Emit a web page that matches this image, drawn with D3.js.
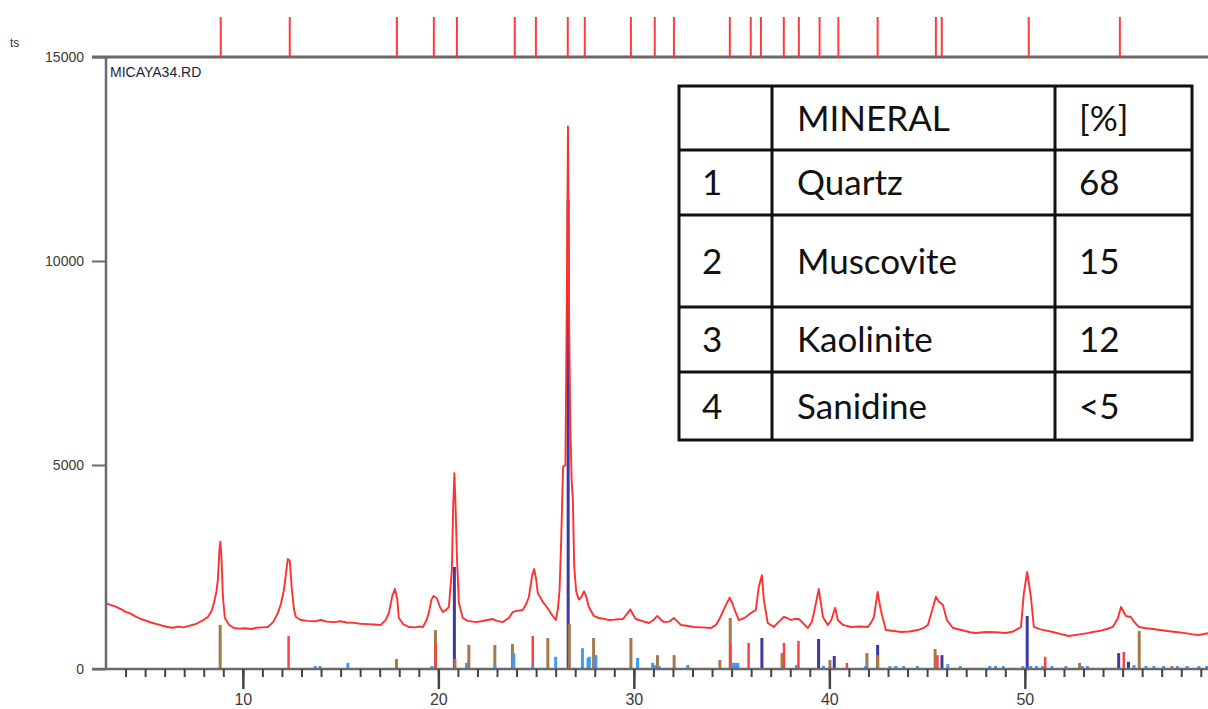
<!DOCTYPE html>
<html>
<head>
<meta charset="utf-8">
<script src="https://cdn.jsdelivr.net/npm/d3@7"></script>
<style>
  body { margin: 0; background: #fff; }
</style>
</head>
<body>
<div id="chart"></div>
<script>
// measured pattern (2theta, counts)
var profile = [
  [3.04,1600],[3.3,1560],[3.5,1530],[3.76,1470],[4.0,1400],[4.2,1370],[4.5,1290],[4.78,1225],[5.0,1190],[5.3,1140],
  [5.6,1100],[5.9,1060],[6.16,1030],[6.4,1010],[6.7,1040],[6.98,1020],[7.2,1050],[7.5,1090],[7.7,1127],[7.95,1190],
  [8.21,1275],[8.4,1420],[8.52,1617],[8.65,1900],[8.72,2180],[8.8,2900],[8.85,3120],[8.9,2800],[8.98,1765],[9.08,1250],
  [9.3,1080],[9.54,1005],[9.8,990],[10.1,1000],[10.41,980],[10.7,1010],[11.0,1020],[11.28,1030],[11.55,1150],[11.79,1370],
  [11.95,1600],[12.1,1936],[12.22,2400],[12.3,2700],[12.4,2650],[12.51,1936],[12.62,1450],[12.71,1275],[12.97,1200],[13.3,1180],
  [13.7,1170],[14.0,1200],[14.3,1160],[14.65,1150],[15.0,1170],[15.3,1140],[15.7,1130],[16.0,1110],[16.39,1100],[16.7,1090],
  [17.06,1080],[17.3,1200],[17.47,1370],[17.65,1800],[17.78,1960],[17.9,1700],[17.98,1250],[18.2,1100],[18.49,1030],[18.8,1020],
  [19.0,1040],[19.21,1030],[19.4,1200],[19.51,1370],[19.65,1700],[19.75,1790],[19.92,1740],[20.1,1500],[20.23,1400],[20.4,1450],
  [20.54,1520],[20.69,2430],[20.76,4000],[20.82,4800],[20.88,4000],[20.95,2745],[21.05,1617],[21.25,1250],[21.5,1180],[21.92,1150],
  [22.2,1170],[22.5,1200],[22.79,1225],[23.0,1180],[23.3,1150],[23.6,1250],[23.81,1400],[24.1,1430],[24.32,1446],[24.5,1600],
  [24.63,1765],[24.8,2300],[24.9,2450],[25.0,2200],[25.09,1860],[25.35,1640],[25.5,1550],[25.65,1446],[25.85,1300],[26.01,1200],
  [26.12,1500],[26.2,1936],[26.28,3100],[26.38,4950],[26.5,5000],[26.57,9000],[26.63,13300],[26.68,9000],[26.75,6000],[26.82,4600],
  [26.88,4140],[26.95,2500],[27.05,1900],[27.19,1700],[27.3,1750],[27.45,1900],[27.55,1800],[27.7,1520],[27.95,1300],[28.21,1250],
  [28.5,1230],[28.72,1200],[29.0,1210],[29.2,1220],[29.44,1225],[29.65,1350],[29.82,1460],[30.0,1300],[30.1,1225],[30.4,1180],
  [30.77,1127],[31.0,1200],[31.2,1300],[31.4,1200],[31.53,1150],[31.8,1160],[32.05,1250],[32.2,1180],[32.4,1080],[32.7,1060],
  [33.07,1030],[33.5,1020],[33.94,1005],[34.2,1080],[34.35,1200],[34.55,1400],[34.71,1570],[34.9,1750],[35.05,1600],[35.12,1495],
  [35.37,1200],[35.55,1230],[35.73,1275],[35.98,1370],[36.24,1446],[36.39,2010],[36.55,2300],[36.65,1690],[36.85,1127],[37.16,1030],
  [37.4,1150],[37.67,1275],[37.85,1250],[38.03,1200],[38.25,1230],[38.44,1225],[38.7,1100],[38.9,1005],[39.1,1150],[39.21,1370],
  [39.46,1960],[39.67,1275],[39.92,1080],[40.1,1200],[40.18,1323],[40.3,1500],[40.43,1200],[40.7,1080],[41.1,1030],[41.5,1040],
  [41.97,1030],[42.15,1150],[42.28,1275],[42.47,1890],[42.63,1446],[42.89,955],[43.3,930],[43.66,907],[44.1,920],[44.53,955],
  [44.8,1000],[45.04,1080],[45.19,1323],[45.45,1770],[45.6,1650],[45.81,1570],[46.01,1200],[46.32,1005],[46.8,950],[47.2,900],
  [47.49,882],[48.01,907],[48.5,900],[49.03,882],[49.4,920],[49.8,1030],[49.95,1860],[50.12,2380],[50.31,1765],[50.46,1030],
  [50.8,970],[51.1,940],[51.43,907],[51.8,860],[52.25,809],[52.8,850],[53.2,880],[53.48,907],[53.9,940],[54.2,980],
  [54.5,1030],[54.76,1250],[54.92,1520],[55.17,1300],[55.42,1275],[55.6,1150],[55.83,1030],[56.2,1000],[56.55,980],[57.0,950],
  [57.3,930],[57.72,907],[58.2,880],[58.6,850],[58.9,833],[59.41,880]
];

// reference sticks per phase (2theta, height)
var quartz = [[20.82,2500],[26.64,11500],[36.55,760],[39.45,735],[40.25,320],[42.47,590],[45.76,340],[50.12,1300],[54.8,390],[55.3,175]];
var muscovite = [[8.84,1080],[17.86,245],[19.85,955],[20.85,250],[21.56,590],[22.89,590],[23.79,610],[25.6,760],[26.7,1100],
  [27.94,760],[29.85,760],[31.21,340],[32.06,340],[34.4,220],[34.93,1250],[37.58,390],[40.03,220],[41.92,390],[42.47,340],
  [45.41,490],[52.8,150],[55.85,930],[57.52,60]];
var kaolinite = [[12.34,810],[19.87,640],[24.83,810],[34.93,640],[35.87,640],[37.68,640],[38.42,690],[40.9,150],[45.53,340],
  [51.04,300],[55.06,420]];
var sanidine = [[13.7,60],[13.95,60],[15.37,150],[19.67,50],[21.44,150],[22.89,100],[23.86,390],[24.83,60],[26.0,300],
  [27.37,510],[27.66,270],[27.72,300],[28.06,340],[30.19,270],[30.96,150],[31.05,100],[31.3,60],[32.76,100],[35.07,150],
  [35.2,150],[35.32,150],[38.32,100],[39.7,80],[41.85,60],[43.1,40],[43.4,40],[43.8,40],[44.5,40],[46.06,120],[46.7,40],
  [48.2,40],[48.5,40],[48.9,40],[49.9,50],[50.3,50],[50.6,50],[50.9,50],[51.38,60],[52.1,40],[52.95,60],[53.2,40],
  [55.58,100],[56.2,40],[56.6,40],[57.1,40],[57.8,40],[58.3,40],[58.9,40],[59.3,40]];

// peak search marks on top
var peakMarks = [8.87,12.4,17.88,19.77,20.95,23.91,24.99,26.62,27.49,29.85,31.07,32.05,34.91,35.98,36.5,37.67,38.44,
  39.5,40.46,42.47,45.45,45.75,50.2,54.86];

// mineral table
var tableHeader = ["", "MINERAL", "[%]"];
var tableNums = ["1", "2", "3", "4"];
var tableMinerals = ["Quartz", "Muscovite", "Kaolinite", "Sanidine"];
var tablePct = ["68", "15", "12", "<5"];

var yTicks = [0, 5000, 10000, 15000];
var xTicks = [10, 20, 30, 40, 50];

var W = 1208, H = 709;
var svg = d3.select('#chart').append('svg')
    .attr('width', W)
    .attr('height', H)
    .style('display', 'block');

var x = d3.scaleLinear().domain([3, 59.4]).range([106, 106 + 56.4 * 19.55]);
var y = d3.scaleLinear().domain([0, 15000]).range([669, 57]);

svg.append('clipPath').attr('id', 'plotclip')
  .append('rect').attr('x', 106).attr('y', 57).attr('width', W - 106).attr('height', 669 - 57);

// sticks
function drawSticks(data, color, w) {
  svg.append('g').selectAll('line')
    .data(data)
    .enter().append('line')
    .attr('x1', function (d) { return x(d[0]); })
    .attr('x2', function (d) { return x(d[0]); })
    .attr('y1', y(0))
    .attr('y2', function (d) { return Math.min(y(d[1]), y(0) - 3); })
    .attr('stroke', color)
    .attr('stroke-width', w);
}
drawSticks(quartz, '#3a3aa6', 3);
drawSticks(muscovite, '#a57a48', 3);
drawSticks(kaolinite, '#ff4040', 2.5);
drawSticks(sanidine, '#3d9bff', 3);

// pattern
var line = d3.line()
  .x(function (d) { return x(d[0]); })
  .y(function (d) { return y(d[1]); });

svg.append('path')
  .datum(profile)
  .attr('clip-path', 'url(#plotclip)')
  .attr('fill', 'none')
  .attr('stroke', '#ff3030')
  .attr('stroke-width', 1.9)
  .attr('stroke-linejoin', 'round')
  .attr('d', line);

// axes
var axisColor = '#6a6a6a';
var yAxis = svg.append('g')
  .attr('transform', 'translate(106,0)')
  .call(d3.axisLeft(y).tickValues(yTicks).tickSize(14).tickPadding(8).tickFormat(d3.format('d')));
yAxis.select('.domain').remove();
yAxis.selectAll('line').attr('stroke', axisColor).attr('stroke-width', 2);
yAxis.selectAll('text').style('font', '14px "Liberation Sans", Arial, sans-serif').attr('fill', '#3a3a3a');

svg.append('line').attr('x1', 106).attr('x2', 106).attr('y1', 56).attr('y2', 670)
  .attr('stroke', axisColor).attr('stroke-width', 2.5);
svg.append('line').attr('x1', 92).attr('x2', W).attr('y1', 57).attr('y2', 57)
  .attr('stroke', axisColor).attr('stroke-width', 3);
svg.append('line').attr('x1', 92).attr('x2', W).attr('y1', 669).attr('y2', 669)
  .attr('stroke', axisColor).attr('stroke-width', 2.5);

var minor = svg.append('g')
  .attr('transform', 'translate(0,669)')
  .call(d3.axisBottom(x).tickValues(d3.range(4, 60)).tickSize(8).tickFormat(''));
minor.select('.domain').remove();
minor.selectAll('line').attr('stroke', '#444').attr('stroke-width', 2);

var xAxis = svg.append('g')
  .attr('transform', 'translate(0,669)')
  .call(d3.axisBottom(x).tickValues(xTicks).tickSize(20).tickPadding(5));
xAxis.select('.domain').remove();
xAxis.selectAll('line').attr('stroke', '#444').attr('stroke-width', 2.5);
xAxis.selectAll('text').style('font', '16px "Liberation Sans", Arial, sans-serif').attr('fill', '#3a3a3a');

// peak marks above the frame
svg.append('g').selectAll('line')
  .data(peakMarks)
  .enter().append('line')
  .attr('x1', function (d) { return x(d); })
  .attr('x2', function (d) { return x(d); })
  .attr('y1', 17)
  .attr('y2', 57)
  .attr('stroke', '#ff3b3b')
  .attr('stroke-width', 2);

svg.append('text').attr('x', 10).attr('y', 47).text('ts')
  .style('font', '12px "Liberation Sans", Arial, sans-serif').attr('fill', '#333');
svg.append('text').attr('x', 110).attr('y', 77).text('MICAYA34.RD')
  .style('font', '14px "Liberation Sans", Arial, sans-serif').attr('fill', '#1d1d3d');

// mineral table
var colX = [679, 772, 1055, 1192];
var rowY = [86, 150, 215, 307, 372, 440];
var tbl = svg.append('g');
tbl.append('rect')
  .attr('x', colX[0]).attr('y', rowY[0])
  .attr('width', colX[3] - colX[0]).attr('height', rowY[5] - rowY[0])
  .attr('fill', '#fff').attr('stroke', '#111').attr('stroke-width', 3);
tbl.selectAll('line.col').data(colX.slice(1, 3)).enter().append('line')
  .attr('x1', function (d) { return d; }).attr('x2', function (d) { return d; })
  .attr('y1', rowY[0]).attr('y2', rowY[5])
  .attr('stroke', '#111').attr('stroke-width', 3);
tbl.selectAll('line.row').data(rowY.slice(1, 5)).enter().append('line')
  .attr('x1', colX[0]).attr('x2', colX[3])
  .attr('y1', function (d) { return d; }).attr('y2', function (d) { return d; })
  .attr('stroke', '#111').attr('stroke-width', 3);

var rows = [tableHeader].concat(tableNums.map(function (n, i) { return [n, tableMinerals[i], tablePct[i]]; }));
var textX = [702, 797, 1079];
rows.forEach(function (r, i) {
  var cy = (rowY[i] + rowY[i + 1]) / 2;
  r.forEach(function (t, j) {
    tbl.append('text')
      .attr('x', textX[j]).attr('y', cy)
      .attr('dy', '0.36em')
      .text(t)
      .style('font', '35px Lato, "Open Sans", sans-serif')
      .attr('fill', '#111');
  });
});
</script>
</body>
</html>
